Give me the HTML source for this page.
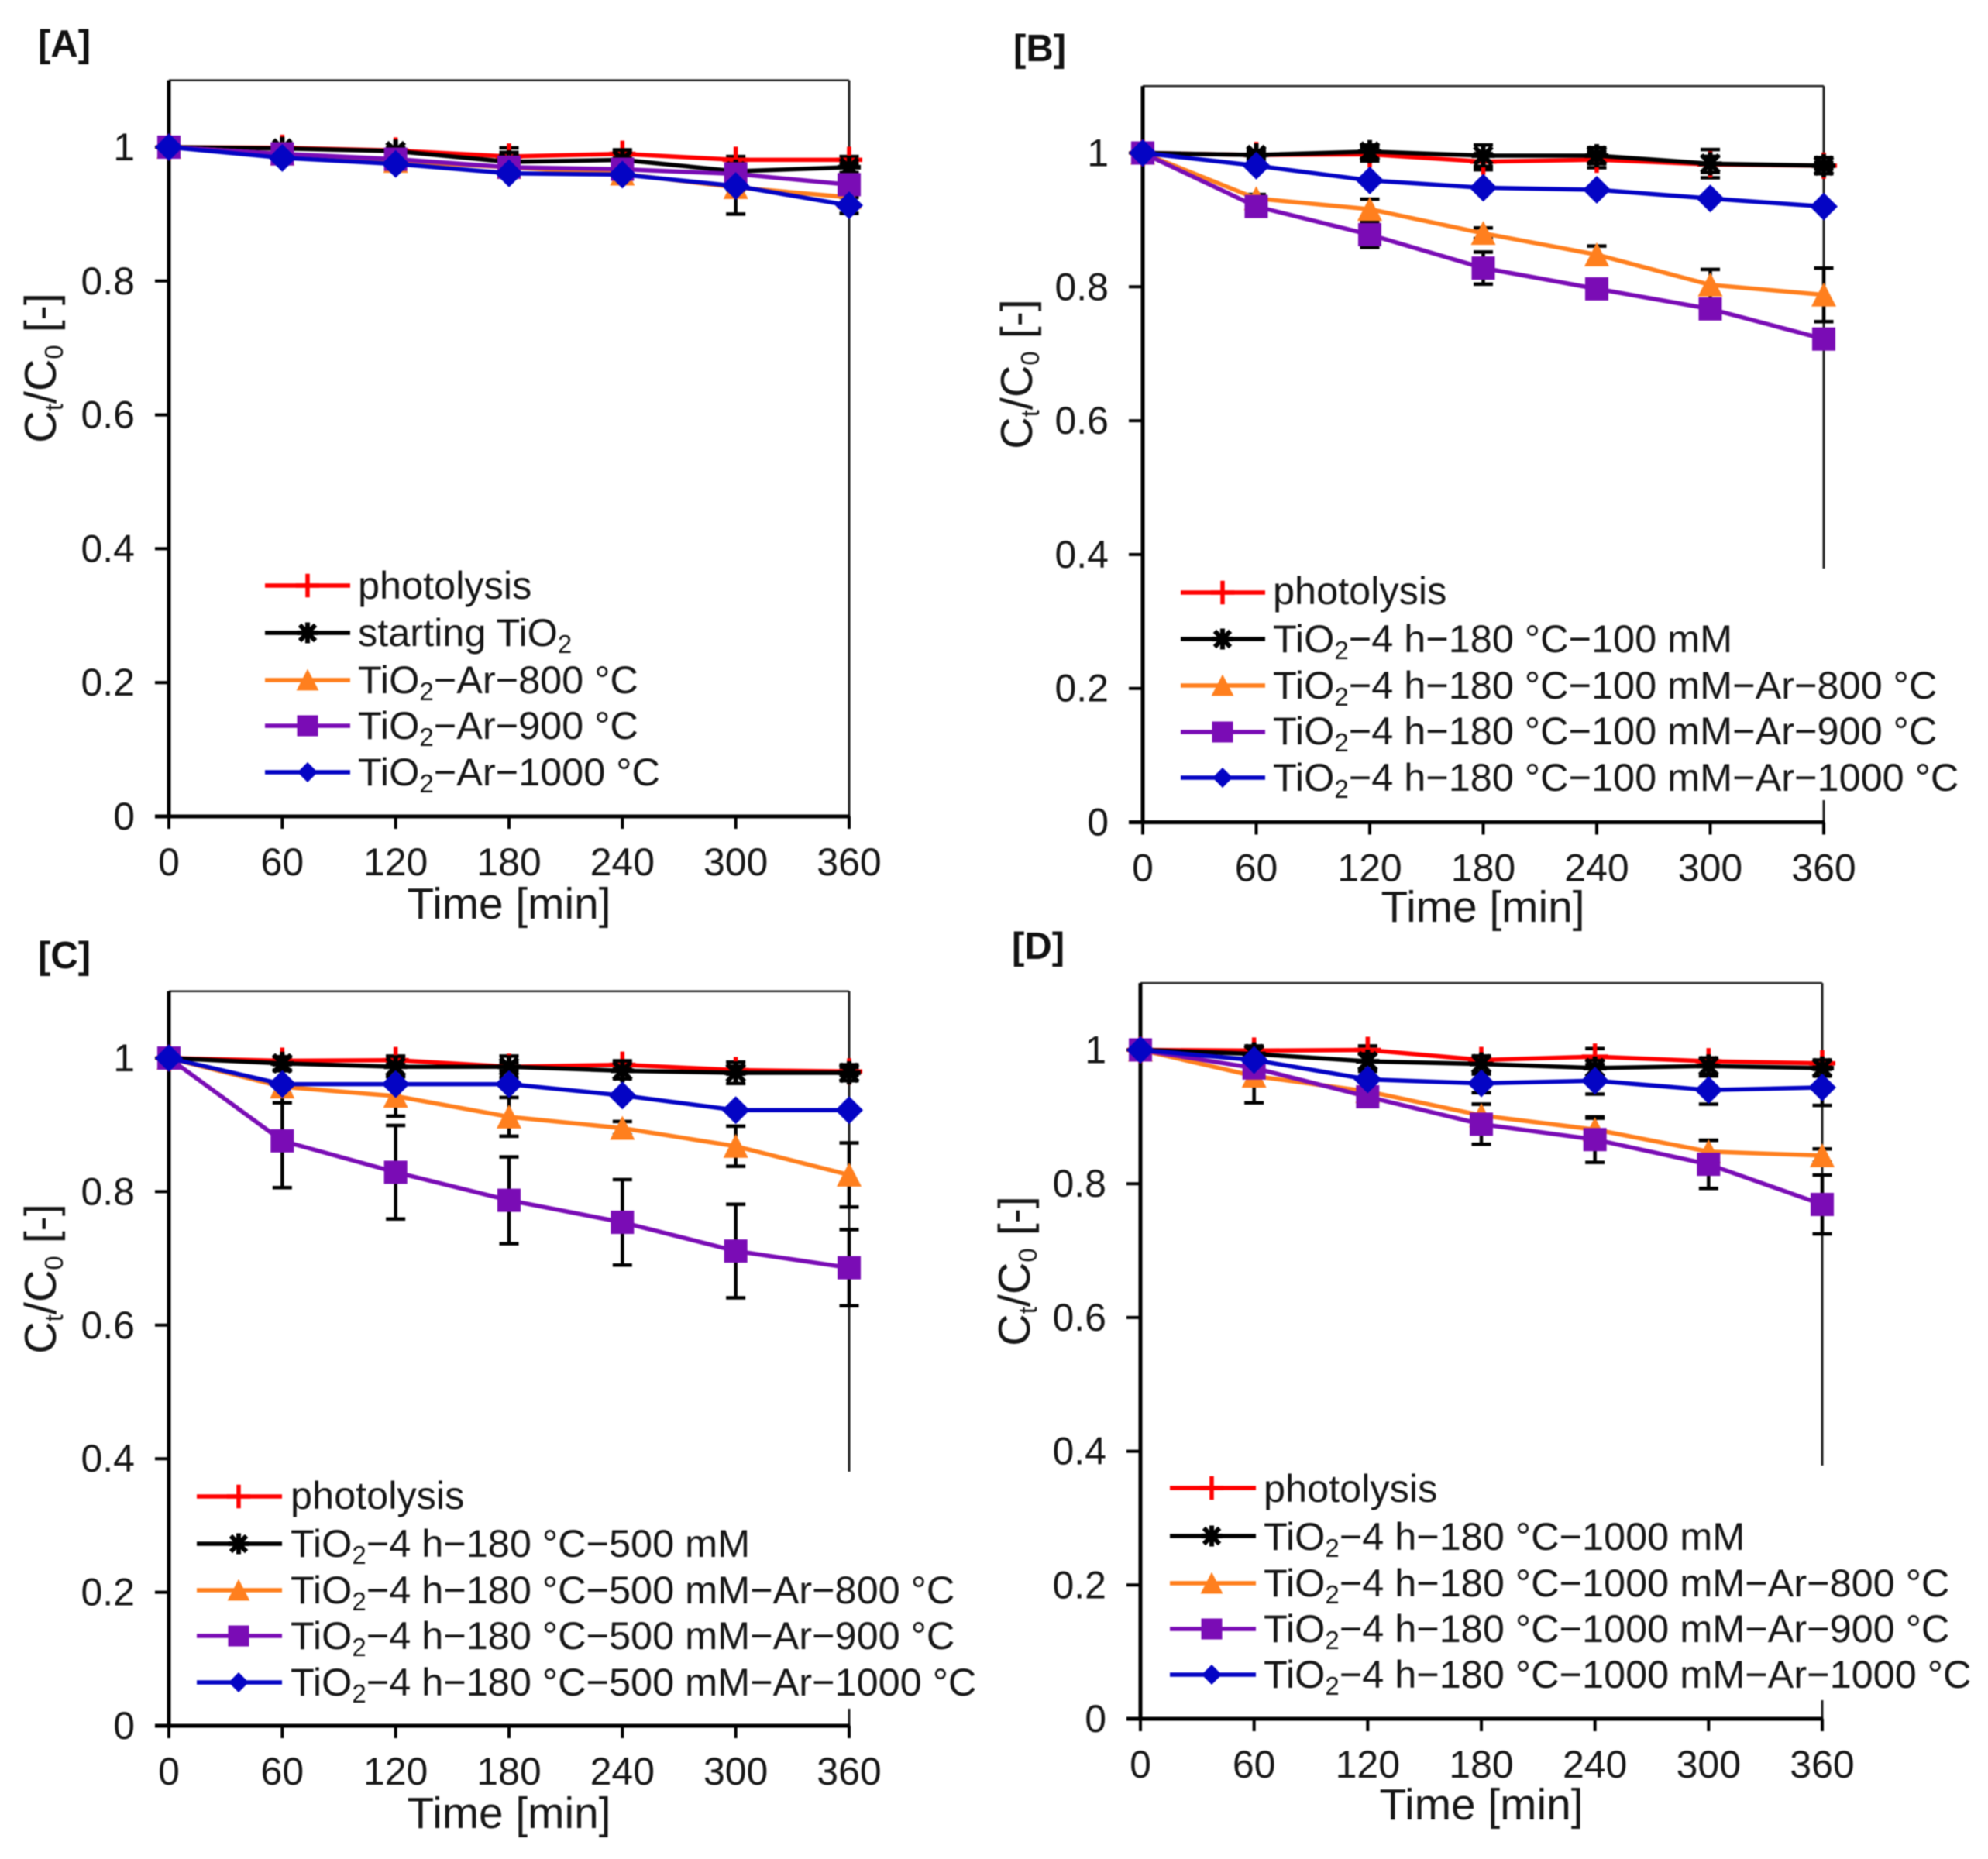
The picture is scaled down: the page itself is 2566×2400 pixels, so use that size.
<!DOCTYPE html>
<html lang="en">
<head>
<meta charset="utf-8">
<title>Ct/C0 versus time, panels A to D</title>
<style>
html,body{margin:0;padding:0;background:#fff;width:2566px;height:2400px;overflow:hidden}
svg{display:block;filter:blur(0.9px)}
text{font-family:"Liberation Sans",sans-serif;fill:#161616}
.tick{font-size:50px}
.leg{font-size:50.45px}
.axt{font-size:56.8px}
.yt{font-size:57.5px}
.ttl{font-size:49px;font-weight:bold;fill:#111}
.sub{font-size:33px}
</style>
</head>
<body>
<svg id="figure" xmlns="http://www.w3.org/2000/svg" width="2566" height="2400" viewBox="0 0 2566 2400">
<rect width="2566" height="2400" fill="#fff"/>

<g>
  <text class="ttl" x="49" y="73">[A]</text>
  <g id="plot-a"></g>
  <text class="axt" x="657" y="1186" text-anchor="middle">Time [min]</text>
  <text class="yt" transform="translate(72,475) rotate(-90)" text-anchor="middle">C<tspan class="sub" dy="9">t</tspan><tspan dy="-9">/C</tspan><tspan class="sub" dy="9">0</tspan><tspan dy="-9"> [-]</tspan></text>
  <g id="legend-a">
    <text class="leg" x="462" y="773">photolysis</text>
    <text class="leg" x="462" y="834">starting TiO<tspan class="sub" dy="9">2</tspan></text>
    <text class="leg" x="462" y="895">TiO<tspan class="sub" dy="9">2</tspan><tspan dy="-9">−Ar−800 °C</tspan></text>
    <text class="leg" x="462" y="954">TiO<tspan class="sub" dy="9">2</tspan><tspan dy="-9">−Ar−900 °C</tspan></text>
    <text class="leg" x="462" y="1014">TiO<tspan class="sub" dy="9">2</tspan><tspan dy="-9">−Ar−1000 °C</tspan></text>
  </g>
</g>

<g>
  <text class="ttl" x="1308" y="79">[B]</text>
  <g id="plot-b"></g>
  <text class="axt" x="1914" y="1190" text-anchor="middle">Time [min]</text>
  <text class="yt" transform="translate(1332,483) rotate(-90)" text-anchor="middle">C<tspan class="sub" dy="9">t</tspan><tspan dy="-9">/C</tspan><tspan class="sub" dy="9">0</tspan><tspan dy="-9"> [-]</tspan></text>
  <rect x="1515" y="734" width="1040" height="299" fill="#fff"/>
  <g id="legend-b">
    <text class="leg" x="1643" y="780">photolysis</text>
    <text class="leg" x="1643" y="842">TiO<tspan class="sub" dy="9">2</tspan><tspan dy="-9">−4 h−180 °C−100 mM</tspan></text>
    <text class="leg" x="1643" y="902">TiO<tspan class="sub" dy="9">2</tspan><tspan dy="-9">−4 h−180 °C−100 mM−Ar−800 °C</tspan></text>
    <text class="leg" x="1643" y="961">TiO<tspan class="sub" dy="9">2</tspan><tspan dy="-9">−4 h−180 °C−100 mM−Ar−900 °C</tspan></text>
    <text class="leg" x="1643" y="1021">TiO<tspan class="sub" dy="9">2</tspan><tspan dy="-9">−4 h−180 °C−100 mM−Ar−1000 °C</tspan></text>
  </g>
</g>

<g>
  <text class="ttl" x="49" y="1250">[C]</text>
  <g id="plot-c"></g>
  <text class="axt" x="657" y="2360" text-anchor="middle">Time [min]</text>
  <text class="yt" transform="translate(72,1651) rotate(-90)" text-anchor="middle">C<tspan class="sub" dy="9">t</tspan><tspan dy="-9">/C</tspan><tspan class="sub" dy="9">0</tspan><tspan dy="-9"> [-]</tspan></text>
  <rect x="245" y="1900" width="1040" height="306" fill="#fff"/>
  <g id="legend-c">
    <text class="leg" x="375" y="1948">photolysis</text>
    <text class="leg" x="375" y="2010">TiO<tspan class="sub" dy="9">2</tspan><tspan dy="-9">−4 h−180 °C−500 mM</tspan></text>
    <text class="leg" x="375" y="2070">TiO<tspan class="sub" dy="9">2</tspan><tspan dy="-9">−4 h−180 °C−500 mM−Ar−800 °C</tspan></text>
    <text class="leg" x="375" y="2129">TiO<tspan class="sub" dy="9">2</tspan><tspan dy="-9">−4 h−180 °C−500 mM−Ar−900 °C</tspan></text>
    <text class="leg" x="375" y="2189">TiO<tspan class="sub" dy="9">2</tspan><tspan dy="-9">−4 h−180 °C−500 mM−Ar−1000 °C</tspan></text>
  </g>
</g>

<g>
  <text class="ttl" x="1306" y="1238">[D]</text>
  <g id="plot-d"></g>
  <text class="axt" x="1912" y="2349" text-anchor="middle">Time [min]</text>
  <text class="yt" transform="translate(1329,1641) rotate(-90)" text-anchor="middle">C<tspan class="sub" dy="9">t</tspan><tspan dy="-9">/C</tspan><tspan class="sub" dy="9">0</tspan><tspan dy="-9"> [-]</tspan></text>
  <rect x="1500" y="1892" width="1060" height="303" fill="#fff"/>
  <g id="legend-d">
    <text class="leg" x="1631" y="1939">photolysis</text>
    <text class="leg" x="1631" y="2001">TiO<tspan class="sub" dy="9">2</tspan><tspan dy="-9">−4 h−180 °C−1000 mM</tspan></text>
    <text class="leg" x="1631" y="2061">TiO<tspan class="sub" dy="9">2</tspan><tspan dy="-9">−4 h−180 °C−1000 mM−Ar−800 °C</tspan></text>
    <text class="leg" x="1631" y="2120">TiO<tspan class="sub" dy="9">2</tspan><tspan dy="-9">−4 h−180 °C−1000 mM−Ar−900 °C</tspan></text>
    <text class="leg" x="1631" y="2179">TiO<tspan class="sub" dy="9">2</tspan><tspan dy="-9">−4 h−180 °C−1000 mM−Ar−1000 °C</tspan></text>
  </g>
</g>
</svg>

<script>
const timeMinutes = [0, 60, 120, 180, 240, 300, 360];
const yTickValues = [0, 0.2, 0.4, 0.6, 0.8, 1];
const yTickLabels = ['0', '0.2', '0.4', '0.6', '0.8', '1'];
const xTickLabels = ['0', '60', '120', '180', '240', '300', '360'];

const aPhotolysis = [1, 0.999, 0.995, 0.986, 0.99, 0.981, 0.981];
const aPhotolysisErr = [0, 0.004, 0.004, 0.006, 0.006, 0.005, 0.005];
const aControl = [1, 0.998, 0.994, 0.978, 0.981, 0.964, 0.97];
const aControlErr = [0, 0.006, 0.005, 0.021, 0.012, 0.01, 0.008];
const a800 = [1, 0.99, 0.979, 0.97, 0.96, 0.94, 0.925];
const a800Err = [0, 0.005, 0.005, 0.01, 0.01, 0.04, 0.01];
const a900 = [1, 0.99, 0.982, 0.97, 0.967, 0.96, 0.944];
const a900Err = [0, 0.004, 0.004, 0.005, 0.005, 0.01, 0.01];
const a1000 = [1, 0.984, 0.975, 0.961, 0.959, 0.942, 0.913];
const a1000Err = [0, 0.004, 0.004, 0.004, 0.005, 0.006, 0.012];

const bPhotolysis = [1, 0.997, 0.998, 0.987, 0.99, 0.983, 0.981];
const bPhotolysisErr = [0, 0.006, 0.01, 0.012, 0.012, 0.012, 0.012];
const bControl = [1, 0.997, 1.002, 0.996, 0.996, 0.984, 0.981];
const bControlErr = [0, 0.006, 0.01, 0.016, 0.012, 0.021, 0.005];
const b800 = [1, 0.932, 0.916, 0.88, 0.848, 0.803, 0.788];
const b800Err = [0, 0.006, 0.015, 0.008, 0.013, 0.023, 0.04];
const b900 = [1, 0.92, 0.878, 0.828, 0.797, 0.767, 0.722];
const b900Err = [0, 0.005, 0.019, 0.024, 0.004, 0.004, 0.004];
const b1000 = [1, 0.981, 0.959, 0.948, 0.945, 0.932, 0.92];
const b1000Err = [0, 0.003, 0.003, 0.003, 0.003, 0.003, 0.003];

const cPhotolysis = [1, 0.996, 0.997, 0.987, 0.99, 0.982, 0.98];
const cPhotolysisErr = [0, 0.006, 0.006, 0.006, 0.006, 0.006, 0.006];
const cControl = [1, 0.992, 0.987, 0.987, 0.981, 0.978, 0.978];
const cControlErr = [0, 0.01, 0.015, 0.016, 0.012, 0.016, 0.012];
const c800 = [1, 0.957, 0.943, 0.912, 0.895, 0.868, 0.825];
const c800Err = [0, 0.024, 0.03, 0.029, 0.01, 0.03, 0.048];
const c900 = [1, 0.876, 0.829, 0.787, 0.754, 0.711, 0.686];
const c900Err = [0, 0.07, 0.07, 0.065, 0.064, 0.07, 0.057];
const c1000 = [1, 0.961, 0.961, 0.961, 0.944, 0.922, 0.922];
const c1000Err = [0, 0.004, 0.004, 0.004, 0.004, 0.004, 0.004];

const dPhotolysis = [1, 0.999, 1, 0.985, 0.99, 0.983, 0.98];
const dPhotolysisErr = [0, 0.004, 0.006, 0.006, 0.012, 0.005, 0.005];
const dControl = [1, 0.994, 0.983, 0.979, 0.973, 0.976, 0.973];
const dControlErr = [0, 0.012, 0.012, 0.012, 0.012, 0.012, 0.012];
const d800 = [1, 0.961, 0.938, 0.902, 0.881, 0.848, 0.842];
const d800Err = [0, 0.04, 0.006, 0.017, 0.017, 0.017, 0.01];
const d900 = [1, 0.973, 0.93, 0.889, 0.866, 0.829, 0.769];
const d900Err = [0, 0.008, 0.012, 0.03, 0.034, 0.036, 0.044];
const d1000 = [1, 0.985, 0.956, 0.95, 0.954, 0.94, 0.944];
const d1000Err = [0, 0.006, 0.012, 0.014, 0.02, 0.021, 0.027];

const NS = 'http://www.w3.org/2000/svg';
const styleRed = {color: '#ff0000', marker: 'plus', tag: 'photolysis'};
const styleBlack = {color: '#000000', marker: 'star', tag: 'control'};
const styleOrange = {color: '#ff7f1e', marker: 'triangle', tag: 'ar-800'};
const stylePurple = {color: '#7a0cb5', marker: 'square', tag: 'ar-900'};
const styleBlue = {color: '#0404c4', marker: 'diamond', tag: 'ar-1000'};

const panels = [
  {id: 'a', left: 218, right: 1096, y0: 1054, y1: 190,
   legend: {x1: 342, x2: 452, mx: 397, rows: [756, 817, 878, 937, 997]},
   series: [[styleRed, aPhotolysis, aPhotolysisErr], [styleBlack, aControl, aControlErr], [styleOrange, a800, a800Err], [stylePurple, a900, a900Err], [styleBlue, a1000, a1000Err]]},
  {id: 'b', left: 1475, right: 2354, y0: 1061.5, y1: 197.5,
   legend: {x1: 1524, x2: 1633, mx: 1578, rows: [765, 825, 885, 945, 1004]},
   series: [[styleRed, bPhotolysis, bPhotolysisErr], [styleBlack, bControl, bControlErr], [styleOrange, b800, b800Err], [stylePurple, b900, b900Err], [styleBlue, b1000, b1000Err]]},
  {id: 'c', left: 218, right: 1096, y0: 2228, y1: 1366,
   legend: {x1: 254, x2: 364, mx: 308, rows: [1932, 1993, 2053, 2112, 2172]},
   series: [[styleRed, cPhotolysis, cPhotolysisErr], [styleBlack, cControl, cControlErr], [styleOrange, c800, c800Err], [stylePurple, c900, c900Err], [styleBlue, c1000, c1000Err]]},
  {id: 'd', left: 1472, right: 2352, y0: 2219, y1: 1355.5,
   legend: {x1: 1510, x2: 1621, mx: 1564, rows: [1921, 1983, 2044, 2103, 2162]},
   series: [[styleRed, dPhotolysis, dPhotolysisErr], [styleBlack, dControl, dControlErr], [styleOrange, d800, d800Err], [stylePurple, d900, d900Err], [styleBlue, d1000, d1000Err]]}
];

function mk(tag, parent, attrs) {
  const el = document.createElementNS(NS, tag);
  for (const k in attrs) el.setAttribute(k, attrs[k]);
  parent.appendChild(el);
  return el;
}

function drawMarker(parent, kind, cx, cy, color, k) {
  const g = mk('g', parent, {fill: color, stroke: 'none'});
  
  
  if (kind === 'square') {
    const s = 15 * k;
    mk('rect', g, {x: cx - s, y: cy - s, width: 2 * s, height: 2 * s});
  } else if (kind === 'diamond') {
    const s = 18 * k;
    mk('polygon', g, {points: [cx, cy - s, cx + s, cy, cx, cy + s, cx - s, cy].join(',')});
  } else if (kind === 'triangle') {
    const s = 16 * k;
    mk('polygon', g, {points: [cx, cy - s, cx + s, cy + s - 1, cx - s, cy + s - 1].join(',')});
  } else if (kind === 'plus') {
    const s = 17 * k;
    mk('path', g, {d: `M${cx} ${cy - s}V${cy + s}M${cx - s} ${cy}H${cx + s}`, stroke: color, 'stroke-width': 5.5, fill: 'none'});
  } else {
    const s = 15 * k;
    const d = s * 0.75;
    mk('path', g, {d: `M${cx} ${cy - s}V${cy + s}M${cx - d} ${cy - d}L${cx + d} ${cy + d}M${cx - d} ${cy + d}L${cx + d} ${cy - d}M${cx - s} ${cy}H${cx + s}`, stroke: color, 'stroke-width': 6, fill: 'none'});
  }
}

function drawPanel(p) {
  const root = document.getElementById('plot-' + p.id);
  const xScale = t => p.left + (t / 360) * (p.right - p.left);
  const yScale = v => p.y0 - v * (p.y0 - p.y1);
  const top = yScale(1.1);

  const frameTop = mk('line', root, {x1: p.left, x2: p.right, y1: top, y2: top, stroke: '#222', 'stroke-width': 2.5});
  
  
  const frameRight = mk('line', root, {x1: p.right, x2: p.right, y1: top, y2: p.y0, stroke: '#222', 'stroke-width': 3});
  
  
  const yAxis = mk('line', root, {x1: p.left, x2: p.left, y1: top, y2: p.y0 + 2, stroke: '#000', 'stroke-width': 5});
  
  
  const xAxis = mk('line', root, {x1: p.left - 18, x2: p.right + 1, y1: p.y0, y2: p.y0, stroke: '#000', 'stroke-width': 5});
  
  

  yTickValues.forEach((v, i) => {
    const y = yScale(v);
    const tick = mk('line', root, {x1: p.left - 18, x2: p.left, y1: y, y2: y, stroke: '#000', 'stroke-width': 4});
    
    
    const label = mk('text', root, {x: p.left - 44, y: y + 17, 'text-anchor': 'end', class: 'tick'});
    label.textContent = yTickLabels[i];
    
    
  });
  timeMinutes.forEach((t, i) => {
    const x = xScale(t);
    const tick = mk('line', root, {x1: x, x2: x, y1: p.y0, y2: p.y0 + 16, stroke: '#000', 'stroke-width': 4});
    
    
    const label = mk('text', root, {x: x, y: p.y0 + 76, 'text-anchor': 'middle', class: 'tick'});
    label.textContent = xTickLabels[i];
    
    
  });

  p.series.forEach(([style, values, errors]) => {
    values.forEach((v, i) => {
      if (!errors[i]) return;
      const x = xScale(timeMinutes[i]);
      const hi = yScale(v + errors[i]);
      const lo = yScale(v - errors[i]);
      const bar = mk('path', root, {d: `M${x} ${hi}V${lo}M${x - 12.5} ${hi}H${x + 12.5}M${x - 12.5} ${lo}H${x + 12.5}`, stroke: '#000', 'stroke-width': 4.5, fill: 'none'});
      
      
    });
  });

  p.series.forEach(([style, values]) => {
    const group = mk('g', root, {});
    
    
    const points = values.map((v, i) => xScale(timeMinutes[i]) + ',' + yScale(v)).join(' ');
    const line = mk('polyline', group, {points: points, fill: 'none', stroke: style.color, 'stroke-width': 5.5, 'stroke-linejoin': 'round'});
    
    
    values.forEach((v, i) => {
      drawMarker(group, style.marker, xScale(timeMinutes[i]), yScale(v), style.color, 1);
    });
  });

  const legendRoot = document.getElementById('legend-' + p.id);
  p.series.forEach(([style], i) => {
    const y = p.legend.rows[i];
    const key = mk('line', legendRoot, {x1: p.legend.x1, x2: p.legend.x2, y1: y, y2: y, stroke: style.color, 'stroke-width': 5.5});
    
    
    drawMarker(legendRoot, style.marker, p.legend.mx, y, style.color, style.marker === 'diamond' ? 0.72 : 0.9);
  });
}

panels.forEach(drawPanel);
</script>
</body>
</html>
